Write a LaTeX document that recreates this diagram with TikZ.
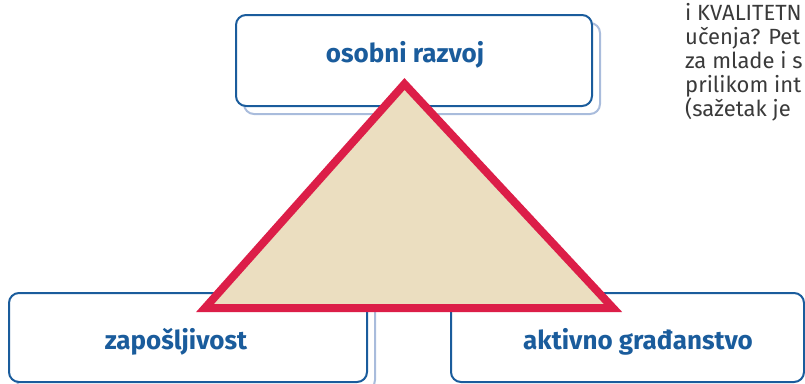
\documentclass[tikz,border=0pt]{standalone}
\usepackage{fontspec}
\setmainfont{Fira Sans}
\usepackage{tikz}
\usetikzlibrary{calc}
\usetikzlibrary{positioning}

\definecolor{okvirplava}{HTML}{1A5C9C}
\definecolor{sjenaplava}{HTML}{A9BCDC}
\definecolor{trokutcrvena}{HTML}{DC1E48}
\definecolor{trokutbez}{HTML}{EBDEC0}
\definecolor{tekstsiva}{HTML}{3A3A3A}

\tikzset{
  okvir/.style={draw=okvirplava,line width=2pt,fill=white,rounded corners=10pt,inner sep=0pt},
  sjena/.style={draw=sjenaplava,line width=2pt,rounded corners=10pt,inner sep=0pt},
  natpis/.style={anchor=base,text=okvirplava,font=\fontsize{26}{30}\selectfont\bfseries,inner sep=0pt},
  redak/.style={anchor=base west,text=tekstsiva,font=\fontsize{22}{24}\selectfont,inner sep=0pt}
}

\begin{document}
\begin{tikzpicture}[x=1pt,y=-1pt]
                    \useasboundingbox (0,0) rectangle (805,383);
                    \clip (0,0) rectangle (805,383);
                    % sjene
                    \node[sjena,minimum width=356pt,minimum height=91pt] (razvojsjena) at (422,68.5) {};
                    \node[sjena,minimum width=358pt,minimum height=89pt] (zaposjena) at (196,345.5) {};
                    % okviri
                    \node[okvir,minimum width=356pt,minimum height=91pt] (razvoj) at (414,60.5) {};
                    \node[okvir,minimum width=358pt,minimum height=89pt] (zapo) at (188,337.5) {};
                    \node[okvir,minimum width=353pt,minimum height=89pt] (gradj) at (627.5,337.5) {};
                    \node[natpis] (razvojtxt) at (405,62) {osobni razvoj};
                    \node[natpis] (zapotxt) at (176,349) {zapošljivost};
                    \node[natpis] (gradjtxt) at (638,349) {aktivno građanstvo};
                    % trokut
                    \coordinate (vrh) at (404.5,84);
                    \coordinate (lijevo) at (205,308);
                    \coordinate (desno) at (613,308);
                    \draw[draw=trokutcrvena,fill=trokutbez,line width=8pt,miter limit=4] (vrh) -- (desno) -- (lijevo) -- cycle;
                    % tekst gore desno
                    \node[redak] (r1) at (685,20) {i KVALITETN};
                    \node[redak] (r2) at (685,44) {učenja? Pet};
                    \node[redak] (r3) at (685,68) {za mlade i s};
                    \node[redak] (r4) at (685,92) {prilikom int};
                    \node[redak] (r5) at (685,116) {(sažetak je};
                \end{tikzpicture}
\end{document}
